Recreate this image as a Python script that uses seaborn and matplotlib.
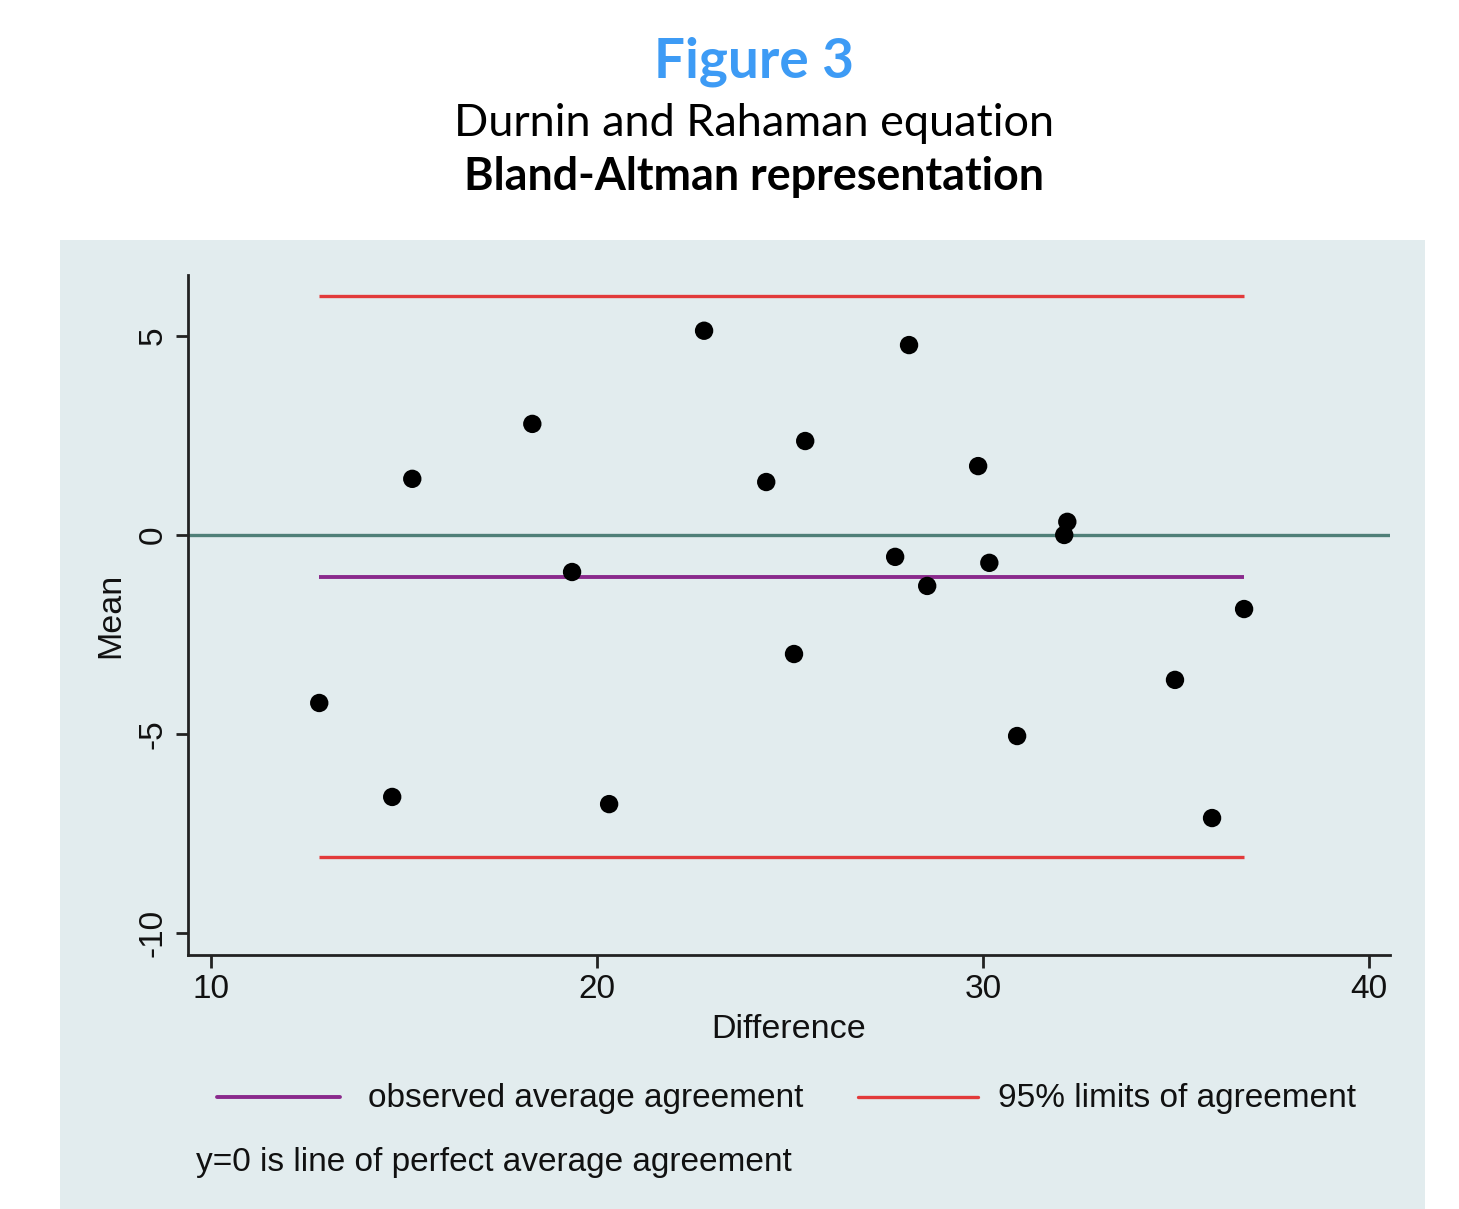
import matplotlib
matplotlib.use("Agg")
import matplotlib.pyplot as plt
import seaborn as sns
import pandas as pd
from matplotlib.patches import Rectangle
from matplotlib.lines import Line2D

# ---- data ----
difference = [12.80, 14.69, 15.21, 18.32, 19.35, 20.31, 22.77, 24.38, 25.10, 25.39,
              27.72, 28.08, 28.55, 29.87, 30.16, 30.88, 32.10, 32.18, 34.97, 35.93, 36.76]
mean_vals = [-4.22, -6.58, 1.41, 2.79, -0.93, -6.76, 5.13, 1.33, -2.99, 2.36,
             -0.55, 4.77, -1.28, 1.73, -0.70, -5.05, 0.00, 0.33, -3.64, -7.11, -1.86]
avg_agreement = -1.06
limits = [6.01, -8.09]
x_ticks = [10, 20, 30, 40]
y_ticks = [-10, -5, 0, 5]

df = pd.DataFrame({"Difference": difference, "Mean": mean_vals})

sns.set_theme(style="white")
plt.rcParams["font.family"] = ["Liberation Sans", "DejaVu Sans"]

W, H = 1459, 1209
fig = plt.figure(figsize=(W / 100, H / 100), dpi=100)
fig.patch.set_facecolor("white")
bg = "#e2ecee"
fig.add_artist(Rectangle((60 / W, 0), (1425 - 60) / W, (1209 - 240) / H,
                         transform=fig.transFigure, facecolor=bg, edgecolor="none", zorder=0))

ax = fig.add_axes([188 / W, 1 - 955 / H, (1390 - 188) / W, (955 - 275) / H])
ax.set_facecolor("none")

red = "#e23a3a"
purple = "#8a2a8c"
teal = "#4f7f78"

ax.axhline(0, color=teal, lw=2.4, zorder=1)
xmin, xmax = min(difference), max(difference)
ax.hlines(limits, xmin, xmax, color=red, lw=2.4, zorder=2)
ax.hlines(avg_agreement, xmin, xmax, color=purple, lw=2.8, zorder=2)

sns.scatterplot(data=df, x="Difference", y="Mean", ax=ax, color="black", s=175,
                edgecolor="none", zorder=3, legend=False)

ax.set_xlim(9.40, 40.54)
ax.set_ylim(-10.55, 6.53)
ax.set_xticks(x_ticks)
ax.set_yticks(y_ticks)
ax.set_xticklabels([str(t) for t in x_ticks], fontsize=24)
ax.set_yticklabels([str(t) for t in y_ticks], fontsize=24, rotation=90, va="center")
for s in ["top", "right"]:
    ax.spines[s].set_visible(False)
for s in ["left", "bottom"]:
    ax.spines[s].set_color("#222222")
    ax.spines[s].set_linewidth(2.0)
ax.tick_params(axis="both", which="major", direction="out", length=9, width=2,
               color="#222222", labelcolor="#111111", pad=5, bottom=True, left=True)
ax.set_xlabel("Difference", fontsize=24.5, color="#111111", labelpad=6)
ax.set_ylabel("Mean", fontsize=24.5, color="#111111", labelpad=8)

# legend
fig.add_artist(Line2D([217 / W, 340 / W], [1 - 1097 / H] * 2, color=purple, lw=2.8,
                      transform=fig.transFigure))
fig.text(368 / W, 1 - 1099 / H, "observed average agreement", fontsize=24,
         va="center", ha="left", color="#111111")
fig.add_artist(Line2D([858 / W, 978 / W], [1 - 1097 / H] * 2, color=red, lw=2.4,
                      transform=fig.transFigure))
fig.text(998 / W, 1 - 1099 / H, "95% limits of agreement", fontsize=24,
         va="center", ha="left", color="#111111")
fig.text(196 / W, 1 - 1162 / H, "y=0 is line of perfect average agreement", fontsize=24,
         va="center", ha="left", color="#111111")

# titles
fig.text(754 / W, 1 - 62 / H, "Figure 3", fontsize=39.5, fontweight="bold",
         color="#3d9bf5", ha="center", va="center", family=["Lato", "DejaVu Sans"])
fig.text(754 / W, 1 - 123 / H, "Durnin and Rahaman equation", fontsize=32.4,
         color="black", ha="center", va="center", family=["Lato", "DejaVu Sans"])
fig.text(754 / W, 1 - 177 / H, "Bland-Altman representation", fontsize=32.3, fontweight="bold",
         color="black", ha="center", va="center", family=["Lato", "DejaVu Sans"])

fig.savefig("out.png", dpi=100)
